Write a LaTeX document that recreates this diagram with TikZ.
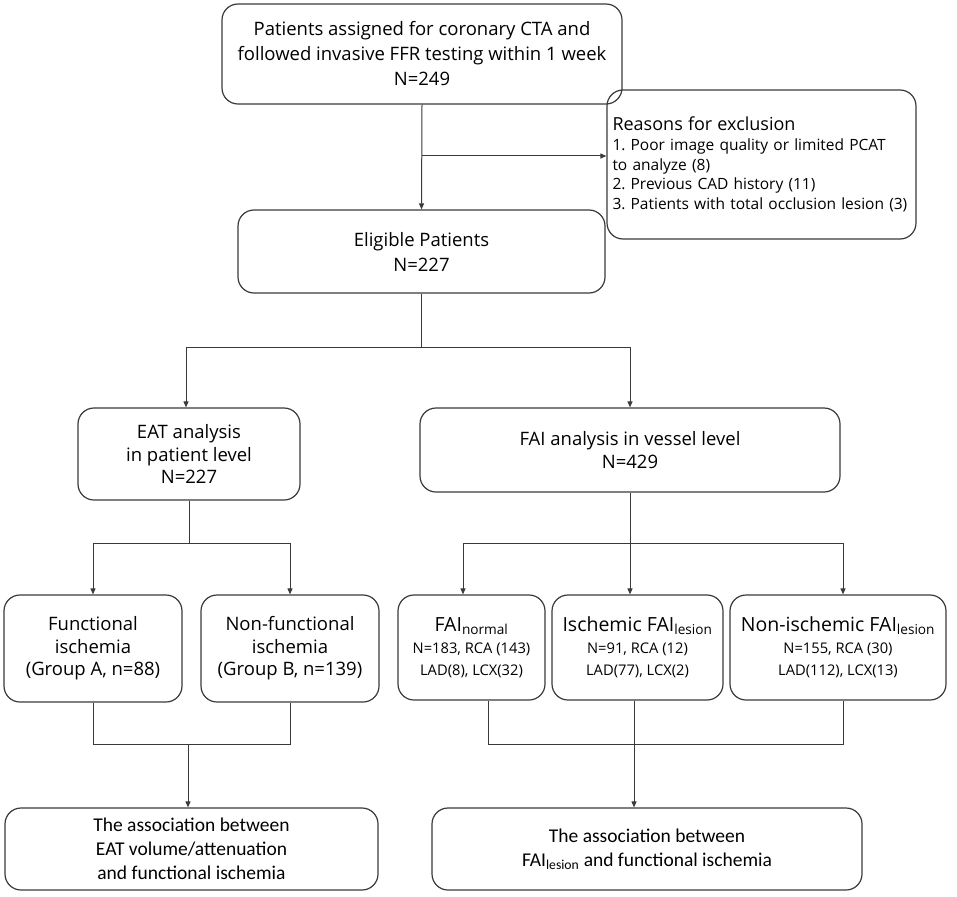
\documentclass[tikz,border=0pt]{standalone}
\usepackage{fontspec}
\setmainfont{Open Sans}
\newfontfamily\calfont{Carlito}
\usetikzlibrary{arrows.meta,calc}
\definecolor{linec}{HTML}{3A3A3A}
\frenchspacing
\tikzset{
  box/.style={draw=linec, line width=1.2pt, rounded corners=16pt, align=center, inner sep=2pt, text=black},
  conn/.style={draw=linec, line width=1pt},
  arr/.style={conn, -{Triangle[length=6pt,width=5pt]}},
  mainf/.style={font=\fontsize{18.5}{25}\selectfont},
  midf/.style={font=\fontsize{18.5}{22.5}\selectfont},
  subf/.style={font=\fontsize{14.7}{22}\selectfont},
  calf/.style={font=\calfont\fontsize{19.5}{24}\selectfont},
}
\begin{document}
\begin{tikzpicture}[x=1pt,y=-1pt]
\useasboundingbox (0,0) rectangle (957,896);

\node[box, mainf, minimum width=400pt, minimum height=100pt] (top) at (422,54)
  {Patients assigned for coronary CTA and\\followed invasive FFR testing within 1 week\\N=249};

\node[box, font=\fontsize{15.5}{19.7}\selectfont, minimum width=309pt, minimum height=149pt, align=left, text width=298pt] (excl) at (761.5,164.5)
  {{\fontsize{18}{19.7}\selectfont Reasons for exclusion}\\
   1. Poor image quality or limited PCAT\\to analyze (8)\\2. Previous CAD history (11)\\3. Patients with total occlusion lesion (3)};

\node[box, mainf, minimum width=367pt, minimum height=83pt] (elig) at (421.5,251.5)
  {Eligible Patients\\N=227};

\node[box, midf, minimum width=222pt, minimum height=92pt] (eat) at (189,454)
  {EAT analysis\\in patient level\\N=227};

\node[box, midf, minimum width=420pt, minimum height=84pt] (fai) at (630,450)
  {FAI analysis in vessel level\\N=429};

\node[box, midf, minimum width=178pt, minimum height=107pt] (func) at (93,648.5)
  {Functional\\ischemia\\(Group A, n=88)};
\node[box, midf, minimum width=178pt, minimum height=107pt] (nonfunc) at (290,648.5)
  {Non-functional\\ischemia\\(Group B, n=139)};

\node[box, subf, minimum width=147pt, minimum height=105pt] (fain) at (471.5,647.5)
  {{\fontsize{19.5}{22}\selectfont FAI\textsubscript{normal}}\\
   N=183, RCA (143)\\LAD(8), LCX(32)};
\node[box, subf, minimum width=171pt, minimum height=105pt] (isch) at (637.5,647.5)
  {{\fontsize{19.5}{22}\selectfont Ischemic FAI\textsubscript{lesion}}\\
   N=91, RCA (12)\\LAD(77), LCX(2)};
\node[box, subf, minimum width=216pt, minimum height=105pt] (nonisch) at (838,647.5)
  {{\fontsize{19.5}{22}\selectfont Non-ischemic FAI\textsubscript{lesion}}\\
   N=155, RCA (30)\\LAD(112), LCX(13)};

\node[box, calf, minimum width=373pt, minimum height=82pt] (bl) at (191.5,849)
  {The association between\\EAT volume/attenuation\\and functional ischemia};
\node[box, calf, minimum width=430pt, minimum height=82pt] (br) at (647,849)
  {The association between\\FAI\textsubscript{lesion} and functional ischemia};

% connectors
\coordinate (b1) at (422,156);
\draw[arr] (top.south) -- (elig.north);
\draw[arr] (b1) -- (b1 -| excl.west);

\coordinate (j1) at (421.5,347);
\draw[conn] (elig.south) -- (j1);
\draw[arr] (j1) -| ($(eat.north)+(-3,0)$);
\draw[arr] (j1) -| (fai.north);

\coordinate (j2) at (189,543);
\draw[conn] (eat.south) -- (j2);
\draw[arr] (j2) -| (func.north);
\draw[arr] (j2) -| (nonfunc.north);

\coordinate (j3) at (630,543);
\draw[conn] (fai.south) -- (j3);
\draw[arr] (j3) -| ($(fain.north)+(-8.5,0)$);
\draw[arr] (j3) -| ($(isch.north)+(-7.5,0)$);
\draw[arr] (j3) -| ($(nonisch.north)+(5,0)$);

\coordinate (j4) at (188,744);
\draw[conn] (func.south) |- (nonfunc.south |- j4) -- (nonfunc.south);
\draw[arr] (j4) -- (j4 |- bl.north);

\coordinate (f1) at ($(fain.south)+(16.5,0)$);
\coordinate (f3) at ($(nonisch.south)+(5,0)$);
\coordinate (f2) at ($(isch.south)+(-3.5,0)$);
\coordinate (j5) at (f2 |- j4);
\draw[conn] (f1) |- (f3 |- j5) -- (f3);
\draw[conn] (f2) -- (j5);
\draw[arr] (j5) -- (j5 |- br.north);
\end{tikzpicture}
\end{document}
